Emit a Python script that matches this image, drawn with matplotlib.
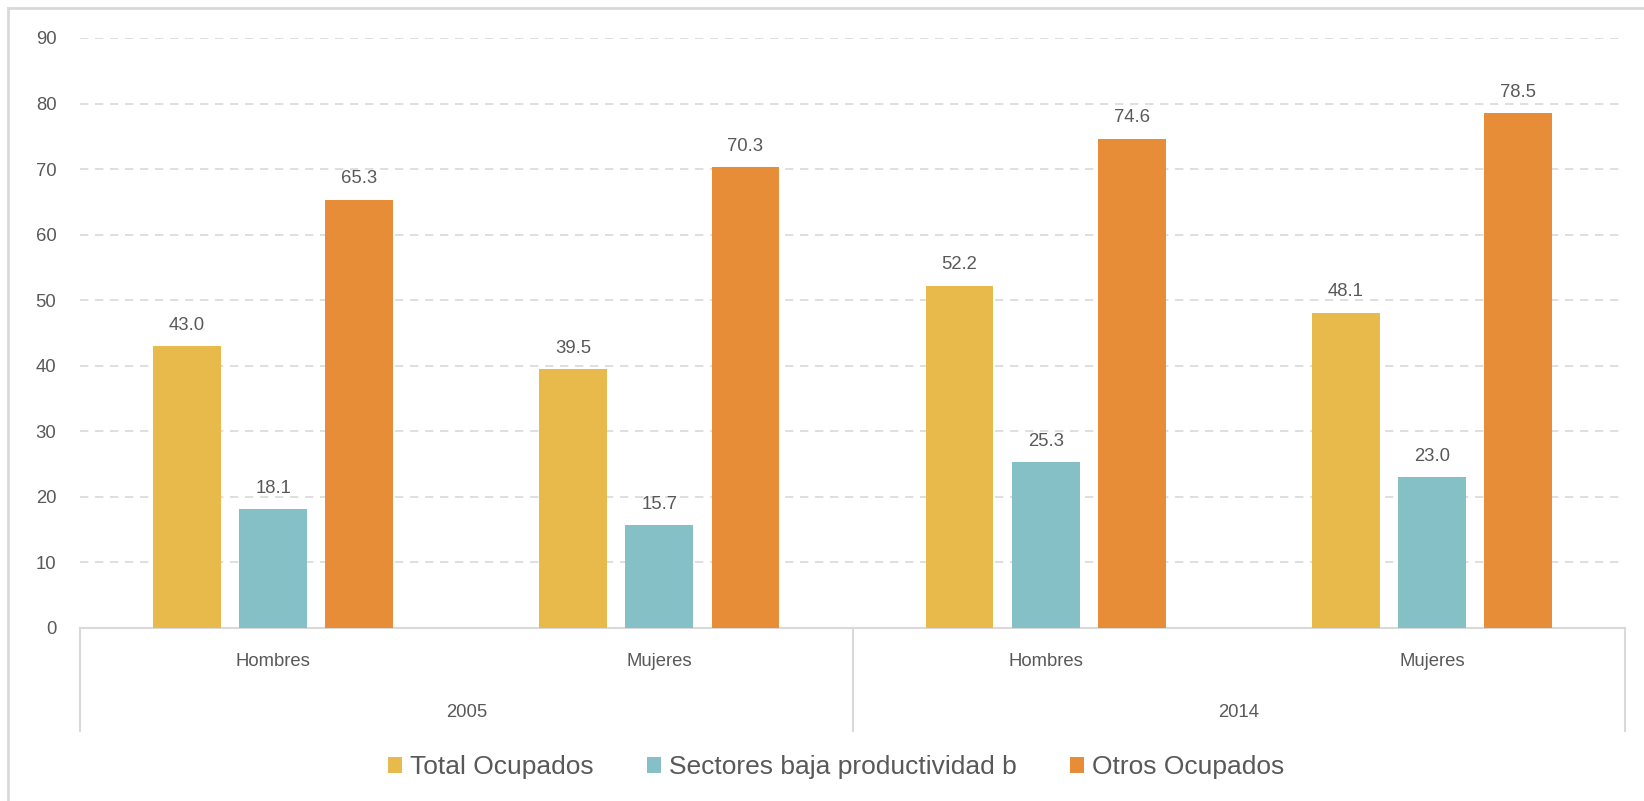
import numpy as np
import matplotlib.pyplot as plt
from matplotlib.lines import Line2D

plt.rcParams['font.family'] = ['Liberation Sans', 'DejaVu Sans']

# data
sexes = ["Hombres", "Mujeres", "Hombres", "Mujeres"]
years = ["2005", "2014"]
series = ["Total Ocupados", "Sectores baja productividad b", "Otros Ocupados"]
total = [43.0, 39.5, 52.2, 48.1]
baja = [18.1, 15.7, 25.3, 23.0]
otros = [65.3, 70.3, 74.6, 78.5]
colors = ["#E8BA4B", "#85C0C6", "#E78D37"]

W, H = 1644, 801
fig = plt.figure(figsize=(W / 100, H / 100), dpi=100)
ax = fig.add_axes([80 / W, 1 - 628 / H, 1545 / W, 590 / H])

text_col = "#595959"
grid_col = "#D9D9D9"
fs = 13.3

x = np.arange(len(sexes))
bw = 0.176
step = 0.223
for i, (vals, col, name) in enumerate(zip([total, baja, otros], colors, series)):
    pos = x + (i - 1) * step
    bars = ax.bar(pos, vals, width=bw, color=col, label=name, zorder=3)
    for b, v in zip(bars, vals):
        ax.annotate(f"{v:.1f}", (b.get_x() + b.get_width() / 2, v),
                    xytext=(0, 9), textcoords="offset points",
                    ha="center", va="bottom", fontsize=fs, color=text_col)

ax.set_xlim(-0.5, 3.5)
ax.set_ylim(0, 90)
ax.set_yticks(np.arange(0, 91, 10))
ax.yaxis.grid(True, linestyle=(0, (5, 4)), color=grid_col, linewidth=1.2, zorder=0)
ax.tick_params(axis="y", length=0, pad=17, labelsize=fs, labelcolor=text_col)
ax.set_xticks(x)
ax.set_xticklabels(sexes)
ax.tick_params(axis="x", length=0, pad=18, labelsize=fs, labelcolor=text_col)

for s in ["top", "right", "left"]:
    ax.spines[s].set_visible(False)
ax.spines["bottom"].set_color(grid_col)
ax.spines["bottom"].set_linewidth(1.5)

# two-level axis: separators and year labels
for xs in [-0.5, 1.5, 3.5]:
    ax.plot([xs, xs], [0, -0.175], transform=ax.get_xaxis_transform(),
            color=grid_col, linewidth=1.5, clip_on=False)
for j, yr in enumerate(years):
    ax.text(0.5 + 2 * j, -0.144, yr, transform=ax.get_xaxis_transform(),
            ha="center", va="center", fontsize=fs, color=text_col)

leg = fig.legend(loc="center", bbox_to_anchor=(836 / W, 1 - 767 / H), ncol=3,
                 frameon=False, fontsize=19, handlelength=0.55, handleheight=0.55,
                 handletextpad=0.3, columnspacing=2.0)
for t in leg.get_texts():
    t.set_color(text_col)

# outer border (top and left visible)
fig.add_artist(Line2D([8 / W, 1], [1 - 8 / H, 1 - 8 / H], color=grid_col, linewidth=2))
fig.add_artist(Line2D([8 / W, 8 / W], [0, 1 - 8 / H], color=grid_col, linewidth=2))

fig.savefig("out.png", dpi=100)
